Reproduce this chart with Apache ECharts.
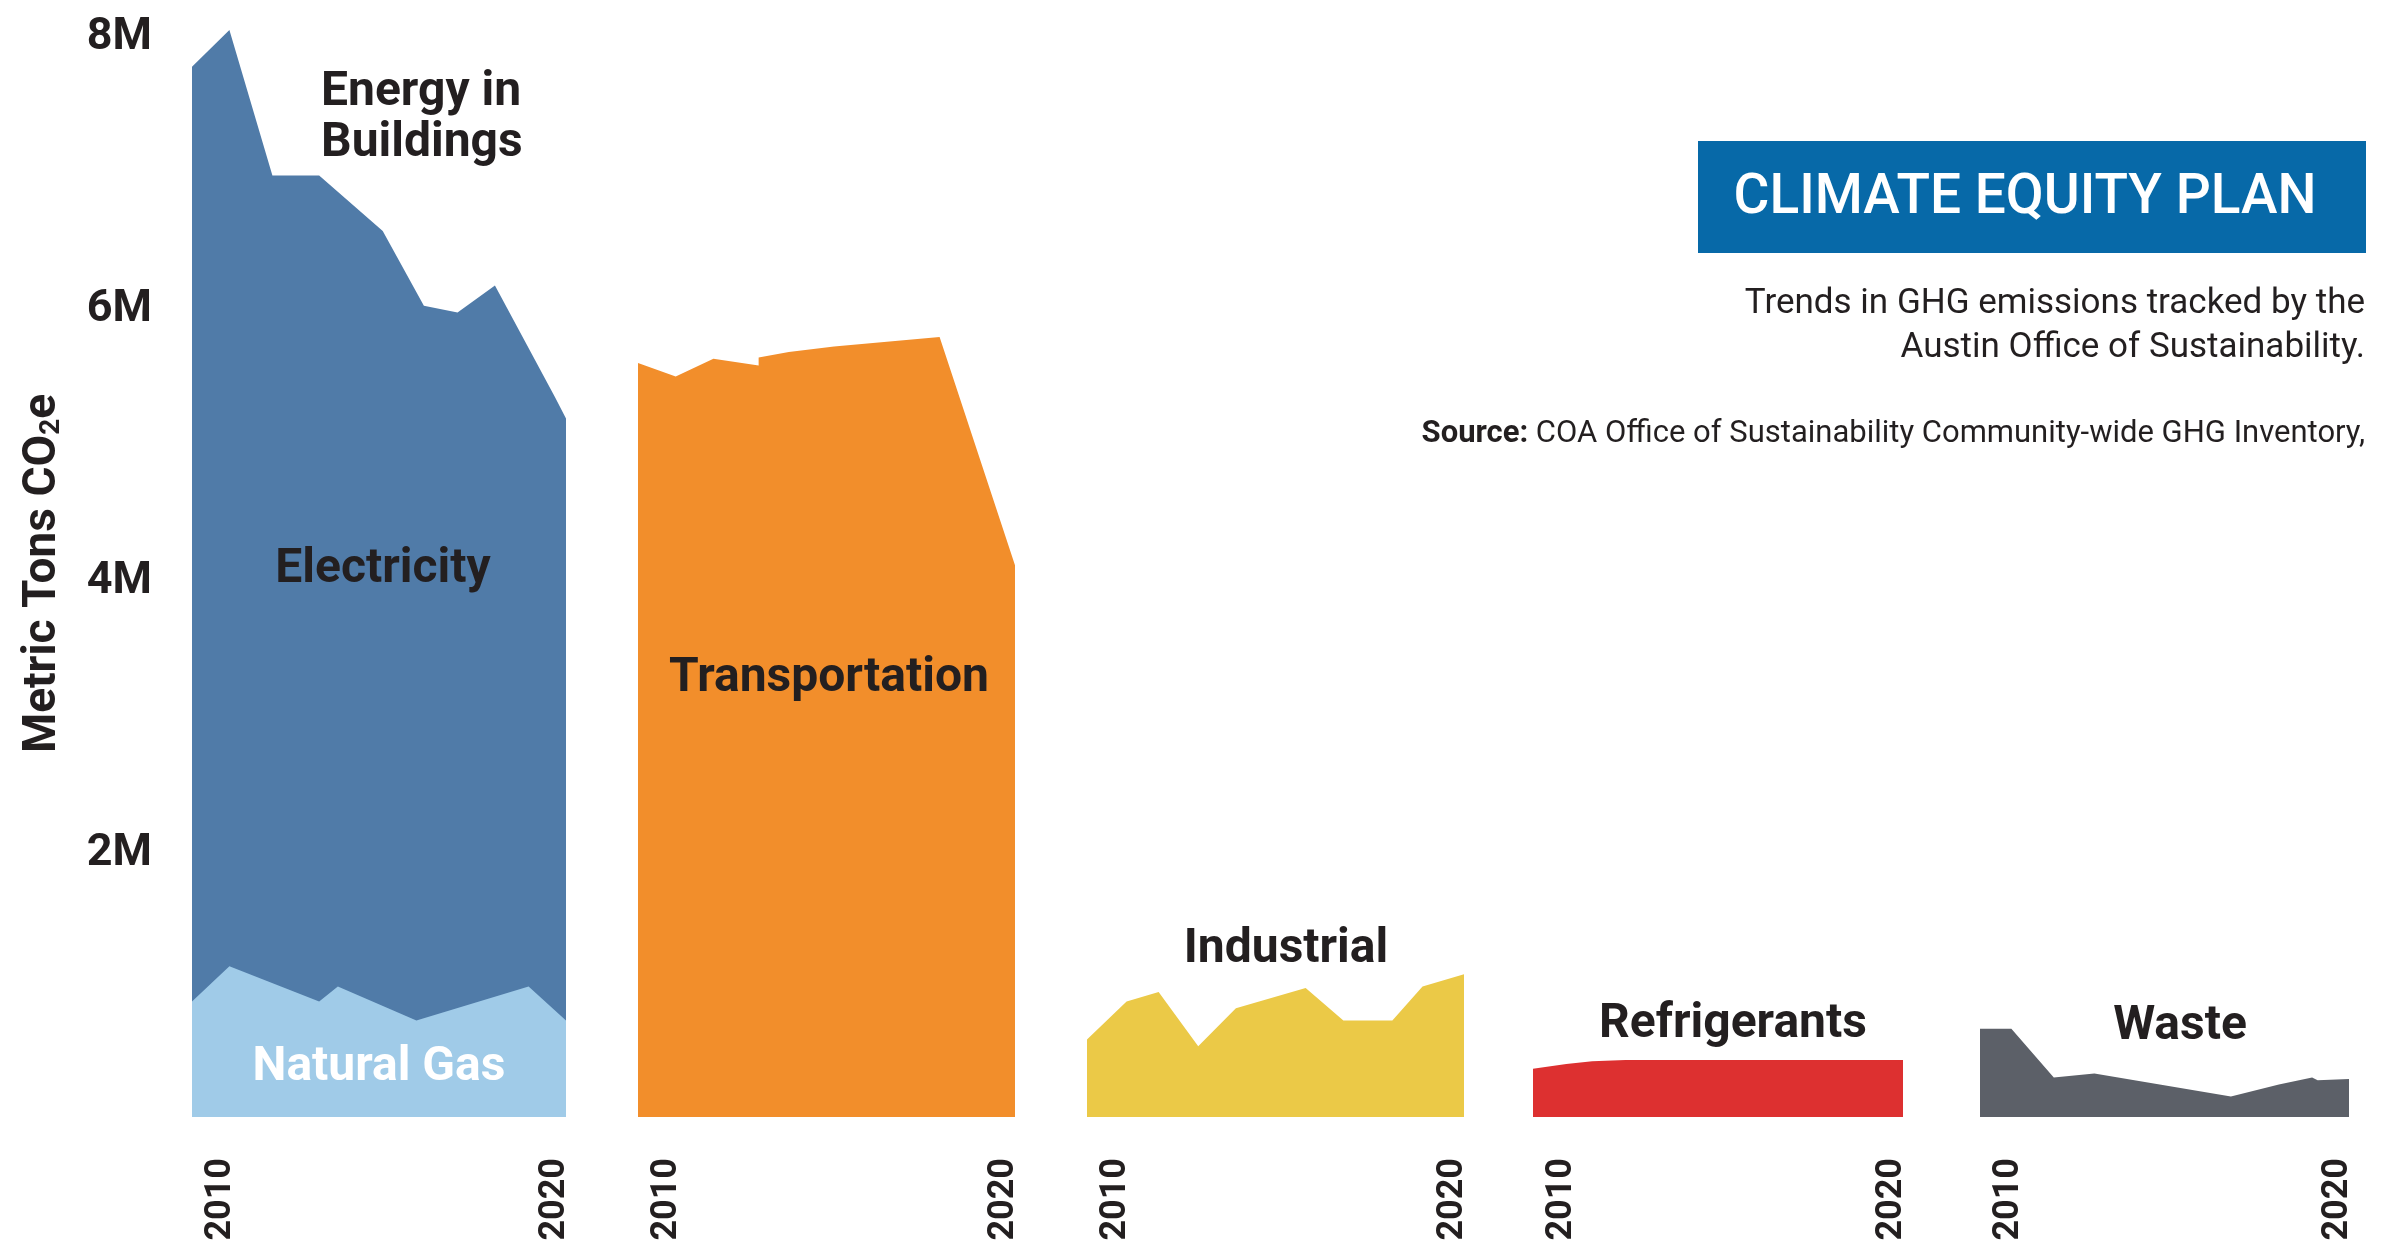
<!DOCTYPE html>
<html style="height: 100%">
<head>
<meta charset="utf-8">
<script src="https://cdn.jsdelivr.net/npm/echarts@6/dist/echarts.min.js"></script>
</head>
<body style="height: 100%; margin: 0; background: #fff">
<div id="container" style="width: 2393px; height: 1244px;"></div>
<script type="text/javascript">
// values in million metric tons CO2e, x = year
var energyYears = [2010, 2011, 2012.15, 2013.4, 2015.1, 2016.2, 2017.1, 2018.1, 2019.7, 2020];
var energyTotal = [7.73, 8.0, 6.93, 6.93, 6.52, 5.97, 5.92, 6.12, 5.30, 5.14];
var gasYears = [2010, 2011, 2013.4, 2013.9, 2016, 2019, 2020];
var gasValues = [0.85, 1.11, 0.85, 0.96, 0.71, 0.96, 0.71];
var transYears = [2010, 2011, 2012, 2013.2, 2013.2, 2014, 2015.2, 2018, 2020];
var transValues = [5.55, 5.45, 5.58, 5.53, 5.59, 5.63, 5.67, 5.74, 4.06];
var indYears = [2010, 2011.05, 2011.9, 2012.95, 2013.95, 2015.8, 2016.8, 2018.1, 2018.9, 2020];
var indValues = [0.57, 0.85, 0.92, 0.52, 0.80, 0.95, 0.71, 0.71, 0.96, 1.05];
var refYears = [2010, 2010.9, 2011.6, 2012.5, 2020];
var refValues = [0.355, 0.39, 0.41, 0.42, 0.42];
var wasteYears = [2010, 2010.85, 2012, 2013.1, 2016.8, 2018.1, 2019, 2019.15, 2020];
var wasteValues = [0.65, 0.65, 0.29, 0.32, 0.15, 0.24, 0.29, 0.27, 0.28];
var yTicks = [2, 4, 6, 8];

var FONT = 'Roboto';
var INK = '#231f20';

function pairs(xs, ys) {
    var out = [];
    for (var i = 0; i < xs.length; i++) out.push([xs[i], ys[i]]);
    return out;
}

var panels = [
    {left: 192, width: 374},
    {left: 638, width: 377},
    {left: 1087, width: 377},
    {left: 1533, width: 370},
    {left: 1980, width: 369}
];

var grids = [], xAxes = [], yAxes = [];
for (var i = 0; i < panels.length; i++) {
    grids.push({left: panels[i].left, width: panels[i].width, top: 30, bottom: 127});
    xAxes.push({
        type: 'value', gridIndex: i, min: 2010, max: 2020, interval: 10,
        axisLine: {show: false}, axisTick: {show: false}, splitLine: {show: false},
        axisLabel: {
            rotate: 90, margin: 41,
            fontFamily: FONT, fontWeight: 'bold', fontSize: 36, color: INK,
            formatter: function (v) { return v === 2010 ? '{a|2010}' : '{b|2020}'; },
            rich: {
                a: {fontFamily: FONT, fontWeight: 'bold', fontSize: 36, color: INK, padding: [58, 0, 0, 0]},
                b: {fontFamily: FONT, fontWeight: 'bold', fontSize: 36, color: INK, padding: [0, 0, 22, 0]}
            }
        }
    });
    var y = {
        type: 'value', gridIndex: i, min: 0, max: 8, interval: 2,
        axisLine: {show: false}, axisTick: {show: false}, splitLine: {show: false},
        axisLabel: {show: false}
    };
    if (i === 0) {
        y.axisLabel = {
            show: true, margin: 40,
            fontFamily: FONT, fontWeight: 'bold', fontSize: 45, color: INK,
            formatter: function (v) { return yTicks.indexOf(v) >= 0 ? '{a|' + v + 'M}' : ''; },
            rich: {a: {fontFamily: FONT, fontWeight: 'bold', fontSize: 45, color: INK, padding: [16, 0, 0, 0]}}
        };
        y.name = 'Metric Tons CO{s|2}e';
        y.nameLocation = 'middle';
        y.nameGap = 126;
        y.nameTextStyle = {
            fontFamily: FONT, fontWeight: 'bold', fontSize: 46, color: INK,
            rich: {s: {fontFamily: FONT, fontWeight: 'bold', fontSize: 28, color: INK, verticalAlign: 'bottom', padding: [12, 0, 0, 0]}}
        };
    }
    yAxes.push(y);
}

function area(name, idx, data, color, z) {
    return {
        name: name, type: 'line', xAxisIndex: idx, yAxisIndex: idx,
        data: data, symbol: 'none', z: z || 2,
        lineStyle: {width: 0}, areaStyle: {color: color, opacity: 1},
        itemStyle: {color: color}, silent: true
    };
}

function label(text, x, y, opts) {
    opts = opts || {};
    return {
        type: 'text', x: x, y: y, z: 100,
        style: {
            text: text, fill: opts.fill || INK,
            font: (opts.weight || 'bold') + ' ' + (opts.size || 48) + 'px ' + FONT,
            textAlign: opts.align || 'center', textVerticalAlign: 'middle'
        }
    };
}

var option = {
    animation: false,
    backgroundColor: '#ffffff',
    grid: grids,
    xAxis: xAxes,
    yAxis: yAxes,
    series: [
        area('Electricity', 0, pairs(energyYears, energyTotal), '#507ba8', 2),
        area('Natural Gas', 0, pairs(gasYears, gasValues), '#a0cbe8', 3),
        area('Transportation', 1, pairs(transYears, transValues), '#f28e2b'),
        area('Industrial', 2, pairs(indYears, indValues), '#ebc947'),
        area('Refrigerants', 3, pairs(refYears, refValues), '#dd3030'),
        area('Waste', 4, pairs(wasteYears, wasteValues), '#5c6068')
    ],
    graphic: [
        label('Energy in', 321, 93, {align: 'left'}),
        label('Buildings', 321, 144, {align: 'left'}),
        label('Electricity', 383, 570),
        label('Natural Gas', 379, 1068, {fill: '#ffffff'}),
        label('Transportation', 829, 679),
        label('Industrial', 1286, 950),
        label('Refrigerants', 1733, 1025),
        label('Waste', 2180, 1027),
        {type: 'rect', shape: {x: 1698, y: 141, width: 668, height: 112}, style: {fill: '#0769a8'}, z: 90},
        label('CLIMATE EQUITY PLAN', 2025, 199, {fill: '#ffffff', size: 55, weight: '500'}),
        label('Trends in GHG emissions tracked by the', 2365, 304, {align: 'right', size: 35, weight: 'normal'}),
        label('Austin Office of Sustainability.', 2365, 348, {align: 'right', size: 35, weight: 'normal'}),
        {
            type: 'text', x: 2365, y: 434, z: 100,
            style: {
                text: '{b|Source:} COA Office of Sustainability Community-wide GHG Inventory,',
                fill: INK, font: 'normal 31px ' + FONT,
                textAlign: 'right', textVerticalAlign: 'middle',
                rich: {b: {fontFamily: FONT, fontWeight: 'bold', fontSize: 31, fill: INK}}
            }
        }
    ]
};

var chart = echarts.init(document.getElementById('container'));
chart.setOption(option);
</script>
</body>
</html>
